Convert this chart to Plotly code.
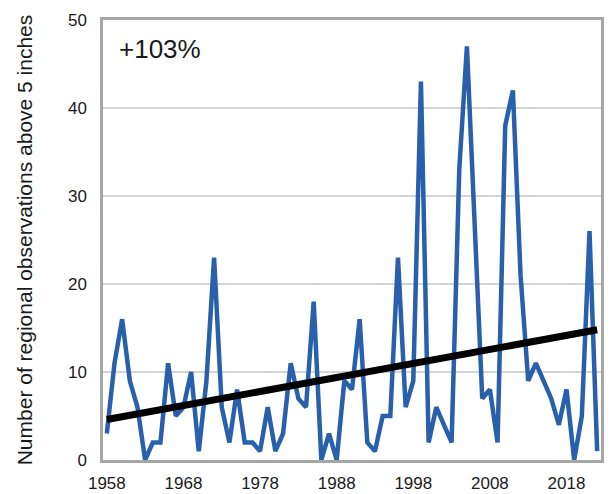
import plotly.graph_objects as go

years = list(range(1958, 2023))
observations = [3, 11, 16, 9, 6, 0, 2, 2, 11, 5,
                6, 10, 1, 9, 23, 6, 2, 8, 2, 2,
                1, 6, 1, 3, 11, 7, 6, 18, 0, 3,
                0, 9, 8, 16, 2, 1, 5, 5, 23, 6,
                9, 43, 2, 6, 4, 2, 33, 47, 27, 7,
                8, 2, 38, 42, 21, 9, 11, 9, 7, 4,
                8, 0, 5, 26, 1]
trend_years = [1958, 2022]
trend_values = [4.6, 14.8]
x_tick_vals = [1958, 1968, 1978, 1988, 1998, 2008, 2018]
y_tick_vals = [0, 10, 20, 30, 40, 50]
change_label = "+103%"
y_title = "Number of regional observations above 5 inches"

FONT = "Liberation Sans, Arial, sans-serif"

fig = go.Figure()
fig.add_trace(go.Scatter(x=years, y=observations, mode="lines",
                         line=dict(color="#2860ab", width=4.5), showlegend=False))
fig.add_trace(go.Scatter(x=trend_years, y=trend_values, mode="lines",
                         line=dict(color="#000000", width=7), showlegend=False))

# page body has an 8px default margin; compensate in figure size/margins
fig.update_layout(
    width=604, height=486,
    margin=dict(l=95, r=11, t=12, b=34, autoexpand=False),
    paper_bgcolor="white", plot_bgcolor="white",
    font=dict(family=FONT, size=17, color="#1a1a1a"),
    annotations=[dict(text=change_label, xref="paper", yref="paper",
                      x=0.028, y=0.935, xanchor="left", yanchor="middle",
                      showarrow=False,
                      font=dict(family=FONT, size=26, color="#1a1a1a"))],
)
fig.update_xaxes(range=[1957.5, 2022.5], tickvals=x_tick_vals,
                 showgrid=False, zeroline=False, automargin=False,
                 showline=True, mirror=True, linecolor="#a6a6a6", linewidth=2.5,
                 ticks="", ticklabelstandoff=6)
fig.update_yaxes(range=[0, 50], tickvals=y_tick_vals,
                 showgrid=True, gridcolor="#d4d4d4", gridwidth=1.5, zeroline=False,
                 automargin=False,
                 showline=True, mirror=True, linecolor="#a6a6a6", linewidth=2.5,
                 ticks="", ticklabelstandoff=10,
                 title=dict(text=y_title, standoff=30,
                            font=dict(family=FONT, size=21)))

fig.write_html("out.html")
